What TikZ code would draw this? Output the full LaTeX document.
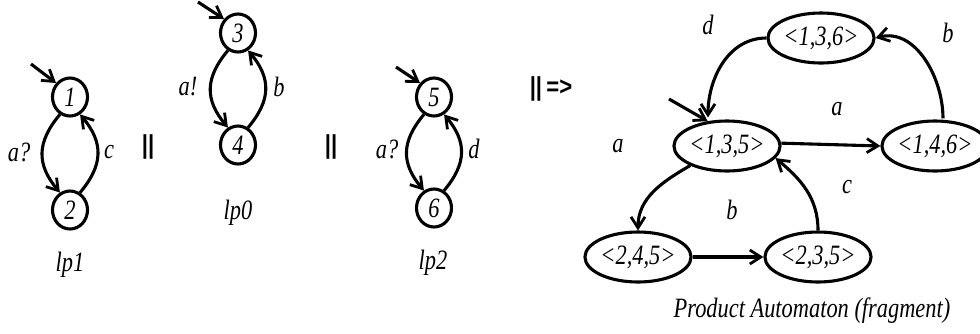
\documentclass[tikz,border=0pt]{standalone}
\usepackage{fontspec}
\setmainfont{Liberation Serif}[FakeStretch=0.8]
\newfontfamily\sansbold{Liberation Sans}[FakeStretch=0.85]
\usetikzlibrary{arrows.meta,shapes.geometric}
\begin{document}
\begin{tikzpicture}[x=1pt,y=-1pt,
  line width=3.1pt,
  txt/.style={font=\fontsize{28}{30}\selectfont\itshape, inner sep=0pt},
  st/.style={draw, ellipse, minimum width=35pt, minimum height=38pt, inner sep=0pt, font=\fontsize{28}{30}\selectfont\itshape},
  pst/.style={draw, ellipse, minimum width=94pt, minimum height=50pt, inner sep=0pt, font=\fontsize{28}{30}\selectfont\itshape},
  arr/.style={-{Straight Barb[length=11pt,width=14pt,line width=2.8pt]}},
  par/.style={font=\fontsize{26}{28}\selectfont\sansbold\bfseries, inner sep=0pt}
]
\useasboundingbox (0,0) rectangle (980,333);

% lp1
\node[st] (n1) at (70,97) {1};
\node[st] (n2) at (70,210) {2};
\coordinate (i1) at (31,64);
\draw[arr] (i1) -- (n1.135);
\draw[arr] (n1.240) to[out=230,in=130,looseness=1.2] (n2.120);
\draw[arr] (n2.60) to[out=50,in=-50,looseness=1.2] (n1.-60);
\node[txt] (la1) at (19,152) {a?};
\node[txt] (lc1) at (109,152) {c};
\node[txt] (lp1) at (70,265) {lp1};
\node[par] (par1) at (148,147) {||};

% lp0
\node[st] (n3) at (238,33) {3};
\node[st] (n4) at (238,145) {4};
\coordinate (i3) at (198,2);
\draw[arr] (i3) -- (n3.135);
\draw[arr] (n3.240) to[out=230,in=130,looseness=1.2] (n4.120);
\draw[arr] (n4.60) to[out=50,in=-50,looseness=1.2] (n3.-60);
\node[txt] (la0) at (188,87) {a!};
\node[txt] (lb0) at (279,87) {b};
\node[txt] (lp0) at (238,213) {lp0};
\node[par] (par2) at (331,147) {||};

% lp2
\node[st] (n5) at (434,97) {5};
\node[st] (n6) at (434,208) {6};
\coordinate (i5) at (396,67);
\draw[arr] (i5) -- (n5.135);
\draw[arr] (n5.240) to[out=230,in=130,looseness=1.2] (n6.120);
\draw[arr] (n6.60) to[out=50,in=-50,looseness=1.2] (n5.-60);
\node[txt] (la2) at (387,149) {a?};
\node[txt] (ld2) at (474,149) {d};
\node[txt] (lp2) at (433,263) {lp2};
\node[par] (par3) at (551,89) {||\,=>};

% product automaton
\node[pst] (p136) at (821,38) {<1,3,6>};
\node[pst] (p135) at (727,146) {<1,3,5>};
\node[pst] (p146) at (935,146) {<1,4,6>};
\node[pst] (p245) at (638,257) {<2,4,5>};
\node[pst] (p235) at (818,257) {<2,3,5>};
\coordinate (i135) at (669,99);
\draw[arr] (i135) -- (p135.128);
\draw[arr] (p136.west) to[out=180,in=90] ([xshift=-19pt,yshift=2pt]p135.north);
\draw[arr] ([xshift=8pt,yshift=1pt]p146.north) to[out=90,in=15] (p136.east);
\draw[arr] (p135.3) -- (p146.west);
\draw[arr] (p135.208) to[out=210,in=90] (p245.north);
\draw[arr] (p245.east) -- (p235.west);
\draw[arr] (p235.north) to[out=90,in=-40] (p135.-14);
\node[txt] (ld) at (708,25) {d};
\node[txt] (lb) at (948,33) {b};
\node[txt] (la) at (837,109) {a};
\node[txt] (la3) at (618,146) {a};
\node[txt] (lb3) at (732,210) {b};
\node[txt] (lc3) at (847,187) {c};
\node[txt] (cap) at (812,311) {Product Automaton (fragment)};
\end{tikzpicture}
\end{document}
